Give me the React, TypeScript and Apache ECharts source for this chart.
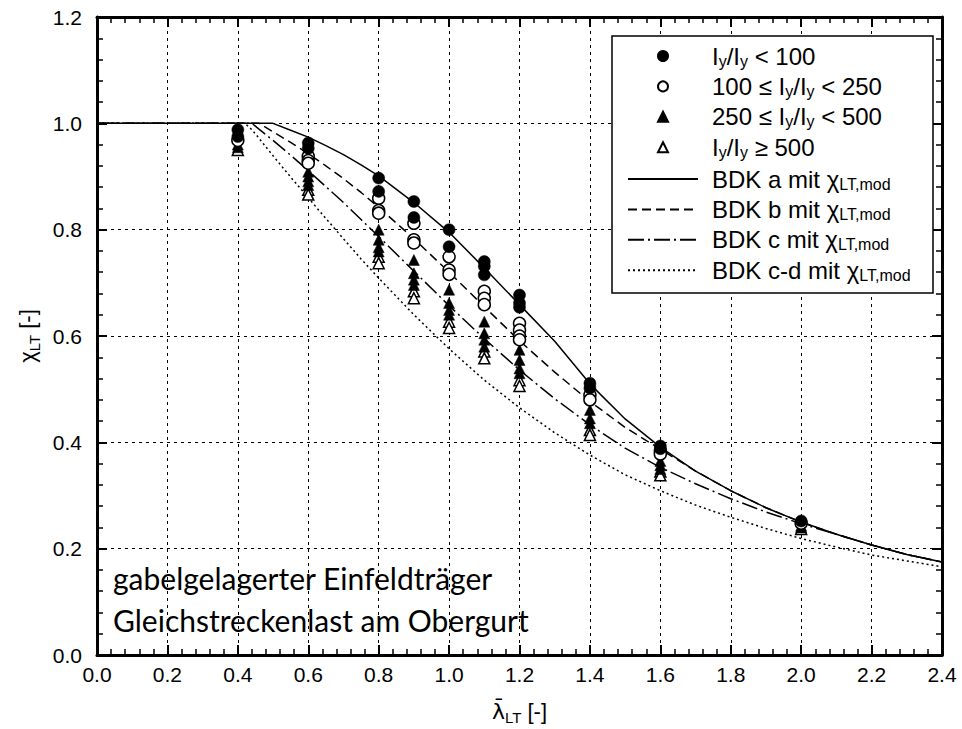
import React, { useEffect, useRef } from "react";
import * as echarts from "echarts";

// ---- curve data ----
const lambdaGrid = [0, 0.4, 0.42, 0.44, 0.46, 0.5, 0.55, 0.6, 0.65, 0.7, 0.75, 0.8, 0.9, 1.0, 1.1, 1.2, 1.3, 1.4, 1.5, 1.6, 1.7, 1.8, 1.9, 2.0, 2.1, 2.2, 2.3, 2.4];
const curveA = [1, 1, 1, 1, 1, 1.0, 0.987, 0.974, 0.958, 0.941, 0.922, 0.901, 0.851, 0.795, 0.728, 0.659, 0.59, 0.51, 0.444, 0.391, 0.346, 0.309, 0.277, 0.25, 0.227, 0.207, 0.189, 0.175];
const curveB = [1, 1, 1, 1, 1, 0.984, 0.964, 0.943, 0.92, 0.896, 0.87, 0.842, 0.783, 0.72, 0.655, 0.591, 0.532, 0.477, 0.428, 0.387, 0.346, 0.309, 0.277, 0.25, 0.227, 0.207, 0.189, 0.175];
const curveC = [1, 1, 1, 1.0, 0.989, 0.968, 0.94, 0.911, 0.881, 0.851, 0.819, 0.787, 0.722, 0.657, 0.595, 0.536, 0.482, 0.433, 0.389, 0.353, 0.322, 0.294, 0.269, 0.247, 0.227, 0.207, 0.189, 0.175];
const curveCD = [1, 1, 1.0, 0.988, 0.972, 0.939, 0.899, 0.86, 0.821, 0.783, 0.745, 0.709, 0.64, 0.576, 0.517, 0.465, 0.418, 0.376, 0.339, 0.309, 0.282, 0.259, 0.238, 0.219, 0.203, 0.188, 0.177, 0.166];

// ---- test points ----
const solidCircX = [0.4, 0.4, 0.6, 0.6, 0.8, 0.8, 0.9, 0.9, 1.0, 1.0, 1.1, 1.1, 1.1, 1.2, 1.2, 1.2, 1.4, 1.4, 1.6, 1.6, 2.0];
const solidCircY = [0.988, 0.975, 0.963, 0.953, 0.897, 0.872, 0.853, 0.823, 0.8, 0.768, 0.74, 0.731, 0.715, 0.677, 0.662, 0.654, 0.511, 0.502, 0.393, 0.388, 0.252];
const openCircX = [0.4, 0.6, 0.6, 0.6, 0.8, 0.8, 0.8, 0.9, 0.9, 0.9, 1.0, 1.0, 1.0, 1.1, 1.1, 1.1, 1.2, 1.2, 1.2, 1.2, 1.4, 1.4, 1.6, 1.6, 2.0];
const openCircY = [0.968, 0.938, 0.93, 0.925, 0.859, 0.836, 0.831, 0.812, 0.781, 0.775, 0.749, 0.724, 0.716, 0.684, 0.671, 0.659, 0.624, 0.611, 0.6, 0.593, 0.489, 0.48, 0.383, 0.378, 0.248];
const solidTriX = [0.4, 0.4, 0.6, 0.6, 0.6, 0.6, 0.8, 0.8, 0.8, 0.8, 0.9, 0.9, 0.9, 0.9, 1.0, 1.0, 1.0, 1.0, 1.1, 1.1, 1.1, 1.1, 1.2, 1.2, 1.2, 1.2, 1.4, 1.4, 1.4, 1.6, 1.6, 1.6, 2.0, 2.0];
const solidTriY = [0.96, 0.955, 0.909, 0.9, 0.891, 0.884, 0.8, 0.781, 0.767, 0.759, 0.743, 0.718, 0.706, 0.696, 0.687, 0.662, 0.649, 0.64, 0.627, 0.605, 0.593, 0.58, 0.574, 0.555, 0.539, 0.53, 0.461, 0.445, 0.436, 0.365, 0.357, 0.35, 0.243, 0.24];
const openTriX = [0.4, 0.6, 0.6, 0.8, 0.8, 0.9, 0.9, 1.0, 1.0, 1.1, 1.1, 1.2, 1.2, 1.4, 1.4, 1.6, 1.6, 2.0];
const openTriY = [0.95, 0.875, 0.866, 0.749, 0.737, 0.684, 0.671, 0.627, 0.615, 0.571, 0.558, 0.517, 0.506, 0.423, 0.414, 0.345, 0.338, 0.237];

const pointNames = ["Iy/Iy < 100", "100 ≤ Iy/Iy < 250", "250 ≤ Iy/Iy < 500", "Iy/Iy ≥ 500"];
const curveNames = ["BDK a mit χLT,mod", "BDK b mit χLT,mod", "BDK c mit χLT,mod", "BDK c-d mit χLT,mod"];
const pointLabels = [
  "{n|I}{s|y}{n|/I}{s|y}{n| < 100}",
  "{n|100 ≤ I}{s|y}{n|/I}{s|y}{n| < 250}",
  "{n|250 ≤ I}{s|y}{n|/I}{s|y}{n| < 500}",
  "{n|I}{s|y}{n|/I}{s|y}{n| ≥ 500}",
];
const curveLabels = [
  "{n|BDK a mit χ}{s|LT,mod}",
  "{n|BDK b mit χ}{s|LT,mod}",
  "{n|BDK c mit χ}{s|LT,mod}",
  "{n|BDK c-d mit χ}{s|LT,mod}",
];
const annotationLines = ["gabelgelagerter Einfeldträger", "Gleichstreckenlast am Obergurt"];

const FONT = "Liberation Sans, Arial, sans-serif";

const zip = (xs: number[], ys: number[]) => xs.map((x, i) => [x, ys[i]]);

function buildOption() {
  const axisCommon = {
    type: "value" as const,
    axisLine: { show: true, onZero: false, lineStyle: { color: "#000", width: 3 } },
    axisTick: { show: true, inside: true, length: 10, lineStyle: { color: "#000", width: 2 } },
    minorTick: { show: true, splitNumber: 5, length: 6, lineStyle: { color: "#000", width: 1.5 } },
  };
  const lineSeries = (name: string, ys: number[], type: any) => ({
    name,
    type: "line",
    data: zip(lambdaGrid, ys),
    symbol: "none",
    showSymbol: false,
    smooth: false,
    lineStyle: { color: "#000", width: 1.5, type },
    itemStyle: { color: "#000" },
    z: 3,
  });
  const scatter = (name: string, xs: number[], ys: number[], symbol: string, size: number, filled: boolean) => ({
    name,
    type: "scatter",
    data: zip(xs, ys),
    symbol,
    symbolSize: size,
    itemStyle: filled
      ? { color: "#000", borderColor: "#000", borderWidth: 0.5, opacity: 1 }
      : { color: "#fff", borderColor: "#000", borderWidth: 1.5, opacity: 1 },
    z: 4,
  });
  const nameRich = {
    g: { fontSize: 22, fontFamily: FONT, color: "#000", lineHeight: 28 },
    l: { fontSize: 22, fontFamily: "DejaVu Sans", color: "#000", lineHeight: 28 },
    s: { fontSize: 15, fontFamily: FONT, color: "#000", lineHeight: 16, verticalAlign: "bottom" },
  };
  const legendRich = {
    n: { fontSize: 24, fontFamily: FONT, color: "#000", lineHeight: 26 },
    s: { fontSize: 16, fontFamily: FONT, color: "#000", lineHeight: 16, verticalAlign: "bottom" },
  };
  const legendCommon = {
    show: true,
    orient: "vertical",
    align: "left",
    padding: 0,
    itemGap: 5.4,
    selectedMode: false,
    backgroundColor: "transparent",
    borderWidth: 0,
    z: 12,
  };
  return {
    animation: false,
    backgroundColor: "#fff",
    grid: { left: 97, right: 20, top: 17, bottom: 74, containLabel: false, outerBoundsMode: "none" },
    xAxis: [
      {
        ...axisCommon,
        position: "bottom",
        min: 0,
        max: 2.4,
        interval: 0.2,
        splitLine: { show: true, lineStyle: { color: "#000", width: 1, type: [3, 4] } },
        axisLabel: { color: "#000", fontSize: 21, fontFamily: FONT, margin: 9, formatter: (v: number) => v.toFixed(1) },
        name: "{l|λ̄}{s|LT}{g| [-]}",
        nameLocation: "middle",
        nameGap: 42,
        nameTextStyle: { rich: nameRich },
      },
      {
        ...axisCommon,
        position: "top",
        min: 0,
        max: 2.4,
        interval: 0.2,
        splitLine: { show: false },
        axisLabel: { show: false },
      },
    ],
    yAxis: [
      {
        ...axisCommon,
        position: "left",
        min: 0,
        max: 1.2,
        interval: 0.2,
        splitLine: { show: true, lineStyle: { color: "#000", width: 1, type: [3, 4] } },
        axisLabel: { color: "#000", fontSize: 21, fontFamily: FONT, margin: 15, formatter: (v: number) => v.toFixed(1) },
        name: "{g|χ}{s|LT}{g| [-]}",
        nameLocation: "middle",
        nameRotate: 90,
        nameGap: 50,
        nameTextStyle: { rich: nameRich },
      },
      {
        ...axisCommon,
        position: "right",
        min: 0,
        max: 1.2,
        interval: 0.2,
        splitLine: { show: false },
        axisLabel: { show: false },
      },
    ],
    legend: [
      {
        ...legendCommon,
        left: 657,
        top: 44,
        itemWidth: 10,
        itemHeight: 10,
        data: pointNames,
        formatter: (name: string) => pointLabels[pointNames.indexOf(name)],
        textStyle: { color: "#000", fontSize: 24, fontFamily: FONT, padding: [0, 0, 0, 39], rich: legendRich },
      },
      {
        ...legendCommon,
        left: 627,
        top: 167,
        itemWidth: 70,
        itemHeight: 10,
        itemStyle: { opacity: 0 },
        data: curveNames,
        formatter: (name: string) => curveLabels[curveNames.indexOf(name)],
        textStyle: { color: "#000", fontSize: 24, fontFamily: FONT, padding: [0, 0, 0, 9], rich: legendRich },
      },
    ],
    graphic: [
      {
        type: "rect",
        z: 8,
        shape: { x: 612, y: 36, width: 321, height: 257 },
        style: { fill: "#fff", stroke: "#000", lineWidth: 1.5 },
      },
      ...annotationLines.map((t, i) => ({
        type: "text",
        x: 113,
        y: 578 + i * 42,
        z: 10,
        style: {
          text: t,
          fontSize: 30,
          fontFamily: "Lato, Noto Sans, sans-serif",
          fill: "#000",
          align: "left",
          verticalAlign: "middle",
        },
      })),
    ],
    series: [
      lineSeries(curveNames[0], curveA, "solid"),
      lineSeries(curveNames[1], curveB, [9, 5]),
      lineSeries(curveNames[2], curveC, [16, 4, 2, 4]),
      lineSeries(curveNames[3], curveCD, [2, 3]),
      scatter(pointNames[3], openTriX, openTriY, "triangle", 11, false),
      scatter(pointNames[2], solidTriX, solidTriY, "triangle", 11, true),
      scatter(pointNames[1], openCircX, openCircY, "circle", 12, false),
      scatter(pointNames[0], solidCircX, solidCircY, "circle", 12, true),
    ],
  };
}

export default function App() {
  const ref = useRef<HTMLDivElement>(null);
  useEffect(() => {
    if (!ref.current) return;
    const chart = echarts.init(ref.current, null, { renderer: "svg" });
    chart.setOption(buildOption() as any);
    return () => chart.dispose();
  }, []);
  return (
    <div
      ref={ref}
      style={{ position: "fixed", left: 0, top: 0, width: 962, height: 729, background: "#fff" }}
    />
  );
}
